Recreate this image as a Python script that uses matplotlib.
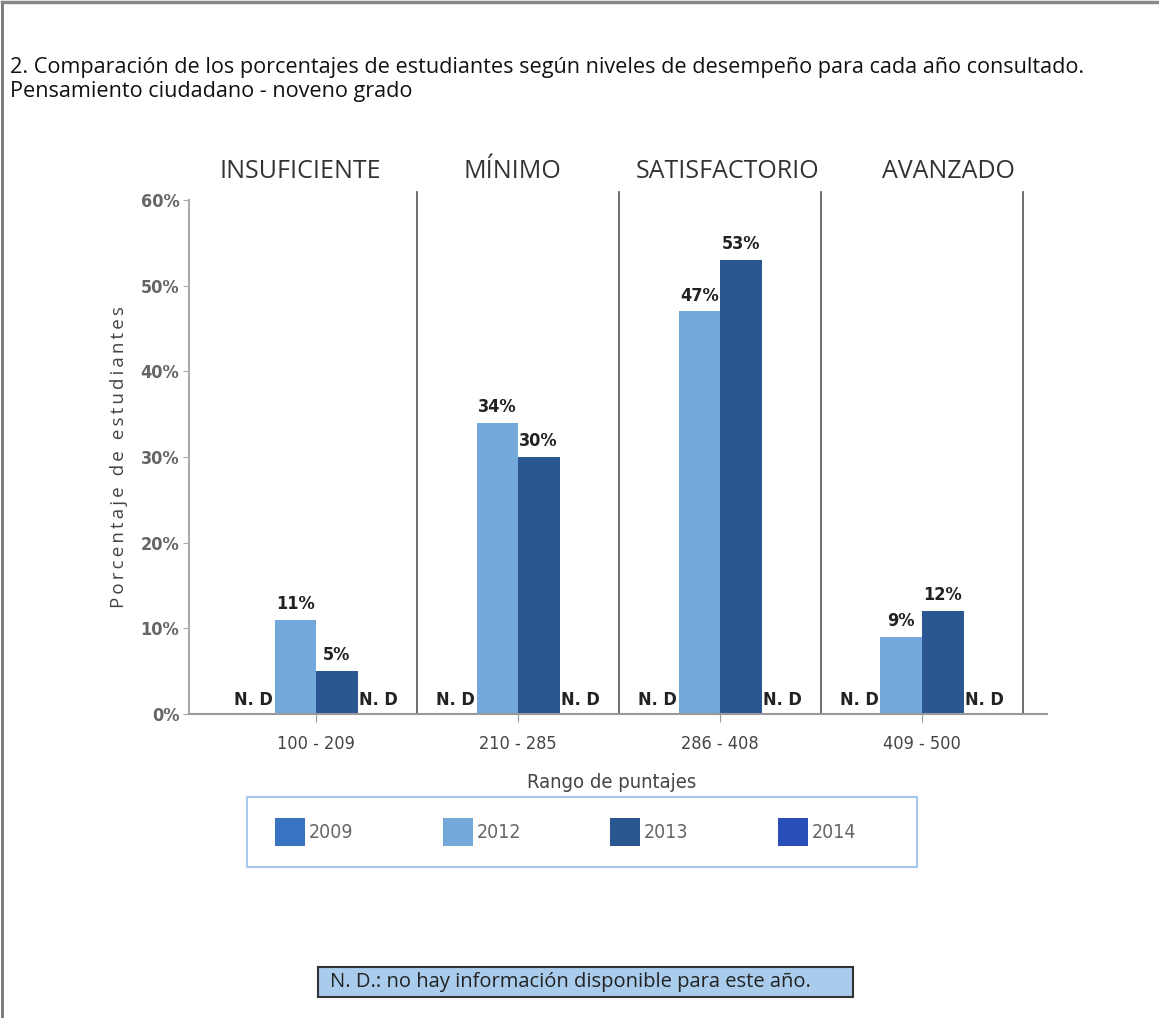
import matplotlib
matplotlib.use("Agg")
import matplotlib.pyplot as plt
from matplotlib.patches import Rectangle
import numpy as np

levels = ["INSUFICIENTE", "MÍNIMO", "SATISFACTORIO", "AVANZADO"]
ranges = ["100 - 209", "210 - 285", "286 - 408", "409 - 500"]
years = ["2009", "2012", "2013", "2014"]
vals_2009 = [None, None, None, None]
vals_2012 = [11, 34, 47, 9]
vals_2013 = [5, 30, 53, 12]
vals_2014 = [None, None, None, None]
series = [vals_2009, vals_2012, vals_2013, vals_2014]
colors = ["#3A72C2", "#72A8DA", "#2A5792", "#2A4DB8"]
yticks = [0, 10, 20, 30, 40, 50, 60]

COND = ["DejaVu Sans Condensed", "Liberation Sans Narrow", "DejaVu Sans"]
OPEN = ["Open Sans", "DejaVu Sans"]
CST = "condensed"

W, H = 1159, 1018
fig = plt.figure(figsize=(W / 100, H / 100), dpi=100)

def fx(px):
    return px / W

def fy(py):
    return 1 - py / H

# frame lines
fig.add_artist(plt.Line2D([fx(2), fx(2)], [0, fy(2)], color="#777777", lw=2))
fig.add_artist(plt.Line2D([fx(2), 1], [fy(2), fy(2)], color="#888888", lw=2.5))

# title
fig.text(fx(10), fy(68), "2. Comparación de los porcentajes de estudiantes según niveles de desempeño para cada año consultado.",
         family=OPEN, fontsize=15.6, color="#111111", va="center", ha="left")
fig.text(fx(10), fy(92), "Pensamiento ciudadano - noveno grado",
         family=OPEN, fontsize=15.6, color="#111111", va="center", ha="left")

# axes
x0, x1 = 189, 1047
ytop, ybot = 200, 714
ax = fig.add_axes([fx(x0), fy(ybot), (x1 - x0) / W, (ybot - ytop) / H])
spacing = 202.0
xmin = (x0 - 316) / spacing
xmax = (x1 - 316) / spacing
ax.set_xlim(xmin, xmax)
ax.set_ylim(0, 60)

bw = 41.5 / spacing
x = np.arange(len(levels))
offsets = [-1.5, -0.5, 0.5, 1.5]
for s, vals in enumerate(series):
    for i, v in enumerate(vals):
        xc = x[i] + offsets[s] * bw
        if v is None:
            ax.text(xc, 0.6, "N. D", ha="center", va="bottom", family=COND, fontstretch=CST,
                    fontsize=13, fontweight="bold", color="#222222")
        else:
            ax.bar(xc, v, width=bw, color=colors[s], edgecolor="none")
            ax.text(xc, v + 0.8, f"{v}%", ha="center", va="bottom", family=COND, fontstretch=CST,
                    fontsize=13, fontweight="bold", color="#222222")

for i in range(len(levels)):
    ax.axvline(i + 0.5, ymin=0, ymax=1.015, color="#555555", lw=1.2, clip_on=False)

for sp in ["top", "right"]:
    ax.spines[sp].set_visible(False)
ax.spines["left"].set_color("#aaaaaa")
ax.spines["left"].set_linewidth(1.5)
ax.spines["bottom"].set_color("#999999")
ax.spines["bottom"].set_linewidth(1.5)

ax.set_yticks(yticks)
ax.set_yticklabels([f"{t}%" for t in yticks], family=COND, fontstretch=CST, fontsize=13,
                   fontweight="bold", color="#666666")
ax.set_xticks(x)
ax.set_xticklabels(ranges, family=COND, fontstretch=CST, fontsize=13, color="#444444")
ax.tick_params(axis="y", length=4, color="#aaaaaa", pad=3)
ax.tick_params(axis="x", length=6, color="#999999", pad=9)

ylab = "\u2009".join("Porcentaje de estudiantes")
ax.set_ylabel(ylab, family=OPEN, fontsize=13.5, color="#444444")
ax.yaxis.set_label_coords((128 - x0) / (x1 - x0), 0.5)
ax.set_xlabel("Rango de puntajes", family=COND, fontstretch=CST, fontsize=14.5, color="#444444",
              va="center")
ax.xaxis.set_label_coords((612 - x0) / (x1 - x0), -(782 - ybot) / (ybot - ytop))

# group headers
head_px = [300, 512, 728, 948]
for name, hx in zip(levels, head_px):
    fig.text(fx(hx), fy(171), name, family=OPEN, fontsize=18, color="#333333", ha="center", va="center")

# legend box
fig.add_artist(Rectangle((fx(247), fy(867)), (917 - 247) / W, (867 - 797) / H,
                         transform=fig.transFigure, facecolor="white", edgecolor="#A8C8EC", lw=1.5))
leg_px = [275, 443, 610, 778]
for yr, c, lx in zip(years, colors, leg_px):
    fig.add_artist(Rectangle((fx(lx), fy(846)), 30 / W, 28 / H, transform=fig.transFigure,
                             facecolor=c, edgecolor="none"))
    fig.text(fx(lx + 34), fy(832), yr, family=COND, fontstretch=CST, fontsize=14, color="#666666",
             ha="left", va="center")

# footnote box
fig.add_artist(Rectangle((fx(318), fy(997)), (853 - 318) / W, (997 - 967) / H,
                         transform=fig.transFigure, facecolor="#A9CCEC", edgecolor="#333333", lw=1.5))
fig.text(fx(330), fy(982), "N. D.: no hay información disponible para este año.", family=OPEN,
         fontsize=14.5, color="#222222", ha="left", va="center")

fig.savefig("out.png", dpi=100)
